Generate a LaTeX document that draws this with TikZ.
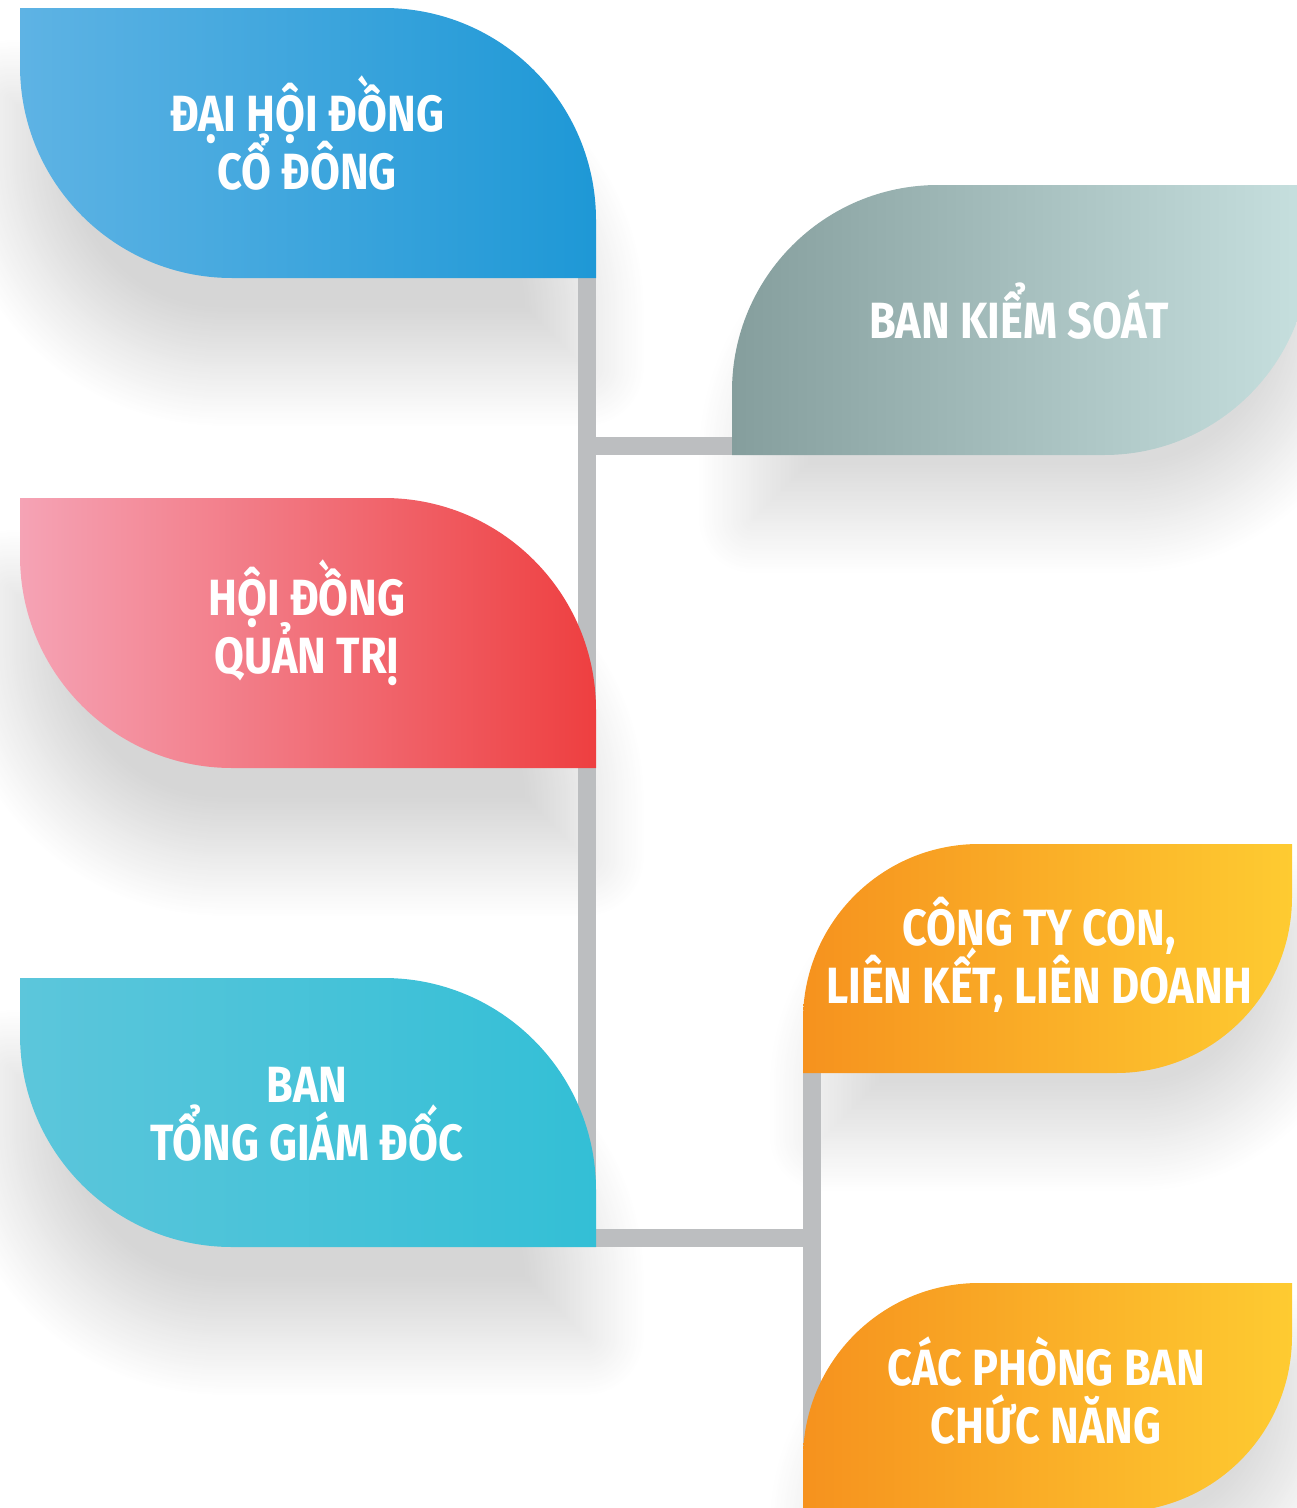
\documentclass[tikz,border=0pt]{standalone}
\usepackage{fontspec}
\newfontfamily\leaffont[FakeStretch=0.85]{Fira Sans}
\usetikzlibrary{shadows.blur}

\definecolor{linkgrey}{HTML}{BCBEC0}
\definecolor{blueL}{HTML}{5EB3E4}
\definecolor{blueR}{HTML}{1E98D6}
\definecolor{redL}{HTML}{F5A3B5}
\definecolor{redR}{HTML}{EE3F40}
\definecolor{cyanL}{HTML}{5CC6DB}
\definecolor{cyanR}{HTML}{33BFD6}
\definecolor{greyL}{HTML}{859E9D}
\definecolor{greyR}{HTML}{C7E0DF}
\definecolor{orangeL}{HTML}{F6921E}
\definecolor{orangeR}{HTML}{FECB31}

% leaf, round corners top right and bottom left: L T R B r
\newcommand{\leafwest}[5]{(#1,#2) -- ({#3-#5},#2)
  .. controls ({#3-0.448*#5},#2) and (#3,{#2+0.448*#5}) .. (#3,{#2+#5})
  -- (#3,#4) -- ({#1+#5},#4)
  .. controls ({#1+0.448*#5},#4) and (#1,{#4-0.448*#5}) .. (#1,{#4-#5}) -- cycle}
% leaf, round corners top left and bottom right: L T R B r
\newcommand{\leafeast}[5]{(#3,#2) -- (#3,{#4-#5})
  .. controls (#3,{#4-0.448*#5}) and ({#3-0.448*#5},#4) .. ({#3-#5},#4)
  -- (#1,#4) -- (#1,{#2+#5})
  .. controls (#1,{#2+0.448*#5}) and ({#1+0.448*#5},#2) .. ({#1+#5},#2) -- cycle}

\tikzset{
  leaftext/.style={font={\leaffont\bfseries\fontsize{29}{33}\selectfont\setlength{\lineskiplimit}{-40pt}},
    text=white, align=center, inner sep=0pt},
  shadowW/.style={blur shadow={shadow xshift=-0.2cm, shadow yshift=-1.8cm,
    shadow blur radius=1.2cm, shadow blur steps=30, shadow opacity=16}},
  shadowE/.style={blur shadow={shadow xshift=0.4cm, shadow yshift=-1.3cm,
    shadow blur radius=1.1cm, shadow blur steps=30, shadow opacity=14}},
  link/.style={linkgrey, line width=0.36cm},
}

\begin{document}
\begin{tikzpicture}[x=0.02cm, y=-0.02cm]
  \useasboundingbox (0,0) rectangle (1297,1508);
  \clip (0,0) rectangle (1297,1508);

  % Shadows
  \path[shadowW] \leafwest{20}{8}{596}{278}{212};
  \path[shadowW] \leafwest{20}{498}{596}{768}{212};
  \path[shadowW] \leafwest{20}{978}{596}{1247}{212};
  \path[shadowE] \leafeast{732}{185}{1310}{455}{206};
  \path[shadowE] \leafeast{803}{844}{1292}{1073}{176};
  \path[shadowE] \leafeast{803}{1283}{1292}{1512}{176};

  % Connectors
  \coordinate (dhcd-s) at (587,278);
  \coordinate (bks-w) at (732,446);
  \coordinate (ctc-s) at (812,1073);
  \coordinate (pbcn-s) at (812,1508);
  \coordinate (jn) at (812,1238);
  \draw[link] (dhcd-s) |- (jn);
  \draw[link] (bks-w) -- (bks-w -| dhcd-s);
  \draw[link] (ctc-s) -- (pbcn-s);

  % Leaves
  \path[left color=blueL, right color=blueR] \leafwest{20}{8}{596}{278}{212};
  \path[left color=redL, right color=redR] \leafwest{20}{498}{596}{768}{212};
  \path[left color=cyanL, right color=cyanR] \leafwest{20}{978}{596}{1247}{212};
  \path[left color=greyL, right color=greyR] \leafeast{732}{185}{1310}{455}{206};
  \path[left color=orangeL, right color=orangeR] \leafeast{803}{844}{1292}{1073}{176};
  \path[left color=orangeL, right color=orangeR] \leafeast{803}{1283}{1292}{1512}{176};

  % Labels
  \node[leaftext] (dhcd) at (307,133) {ĐẠI HỘI ĐỒNG\\CỔ ĐÔNG};
  \node[leaftext] (hdqt) at (307,623) {HỘI ĐỒNG\\QUẢN TRỊ};
  \node[leaftext] (btgd) at (307,1114) {BAN\\TỔNG GIÁM ĐỐC};
  \node[leaftext] (bks) at (1019,311) {BAN KIỂM SOÁT};
  \node[leaftext] (ctc) at (1039,955) {CÔNG TY CON,\\LIÊN KẾT, LIÊN DOANH};
  \node[leaftext] (pbcn) at (1046,1391) {CÁC PHÒNG BAN\\CHỨC NĂNG};
\end{tikzpicture}
\end{document}
